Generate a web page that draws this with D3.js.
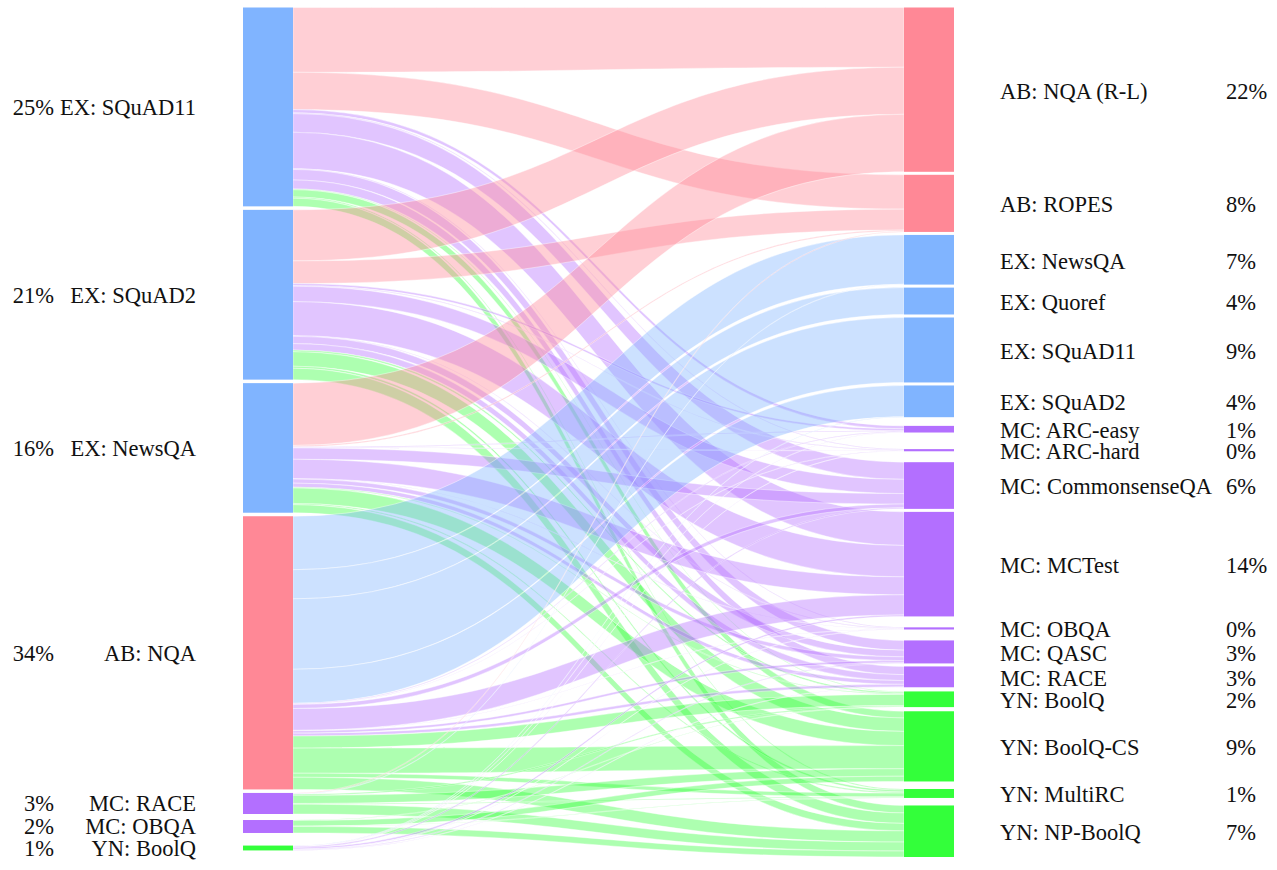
<!DOCTYPE html>
<html>
<head>
<meta charset="utf-8">
<script src="https://cdn.jsdelivr.net/npm/d3@7"></script>
<style>
  body { margin: 0; background: #fff; }
</style>
</head>
<body>
<svg id="chart" width="1277" height="870" font-family="'Liberation Serif', 'DejaVu Serif', serif" font-size="22.5"></svg>
<script>
// training sets (left) and evaluation sets (right)
const sources = ["EX: SQuAD11", "EX: SQuAD2", "EX: NewsQA", "AB: NQA", "MC: RACE", "MC: OBQA", "YN: BoolQ"];
const targets = ["AB: NQA (R-L)", "AB: ROPES", "EX: NewsQA", "EX: Quoref", "EX: SQuAD11", "EX: SQuAD2",
    "MC: ARC-easy", "MC: ARC-hard", "MC: CommonsenseQA", "MC: MCTest", "MC: OBQA", "MC: QASC", "MC: RACE",
    "YN: BoolQ", "YN: BoolQ-CS", "YN: MultiRC", "YN: NP-BoolQ"];

// flow from each source to every target, same order as targets
const fromSQuAD11 = [8.0, 4.6, 0, 0, 0, 0, 0.4, 0.1, 2.3, 4.5, 0.1, 1.3, 1.1, 0.1, 0.9, 0.15, 1.0];
const fromSQuAD2  = [6.3, 2.8, 0, 0, 0, 0, 0.25, 0.08, 1.9, 4.2, 0.08, 0.9, 0.8, 0.2, 1.8, 0.25, 1.4];
const fromNewsQA  = [7.7, 0.15, 0, 0, 0, 0, 0.1, 0.05, 1.4, 2.4, 0.05, 0.5, 0.5, 0.1, 1.9, 0.15, 1.0];
const fromNQA     = [0, 0, 6.6, 3.6, 8.7, 4.2, 0.1, 0.04, 0.5, 2.7, 0.04, 0.3, 0.35, 1.5, 3.1, 0.5, 1.5];
const fromRACE    = [0, 0.1, 0.05, 0, 0, 0, 0, 0, 0, 0, 0, 0, 0, 0.15, 1.0, 0.1, 1.2];
const fromOBQA    = [0, 0, 0, 0, 0, 0, 0, 0, 0, 0, 0, 0, 0, 0.05, 0.7, 0.05, 0.8];
const fromBoolQ   = [0, 0, 0, 0, 0, 0.05, 0.04, 0.02, 0.15, 0.2, 0.02, 0.08, 0.04, 0, 0, 0, 0];

const flows = [fromSQuAD11, fromSQuAD2, fromNewsQA, fromNQA, fromRACE, fromOBQA, fromBoolQ];

const categoryColor = {
    "AB": "#ff8896",
    "EX": "#80b4ff",
    "MC": "#b36fff",
    "YN": "#33ff3a"
};
const colorOf = (name) => categoryColor[name.slice(0, 2)];

const svg = d3.select("#chart");

const yTop = 7.5, yBottom = 857;
const nodeWidth = 50;
const leftX = 243, rightX = 904;
const pad = 3.5;
const minSlot = 18;

// Build links
let links = [];
flows.forEach((row, s) => {
    row.forEach((v, t) => {
        if (v > 0) links.push({ source: s, target: t, value: v });
    });
});

const srcTotals = sources.map((d, i) => d3.sum(flows[i]));
const tgtTotals = targets.map((d, j) => d3.sum(flows, (row) => row[j]));
const total = d3.sum(srcTotals);

// stack one column of nodes, small nodes get a minimum slot
function layoutColumn(values, padding) {
    const n = values.length;
    const sum = d3.sum(values);
    let k = (yBottom - yTop - padding * (n - 1)) / sum;
    for (let it = 0; it < 30; ++it) {
        let extra = d3.sum(values, (v) => Math.max(0, minSlot - v * k));
        k = (yBottom - yTop - padding * (n - 1) - extra) / sum;
    }
    const scale = d3.scaleLinear().domain([0, sum]).range([0, sum * k]);
    let y = yTop;
    const nodes = values.map((v) => {
        const h = scale(v);
        const slot = Math.max(h, minSlot);
        const y0 = y + (slot - h) / 2;
        y += slot + padding;
        return { y0: y0, y1: y0 + h, value: v };
    });
    return { nodes: nodes, scale: scale };
}

const left = layoutColumn(srcTotals, pad);
const right = layoutColumn(tgtTotals, 3);

// link positions at both ends
const srcOffset = left.nodes.map((n) => n.y0);
const tgtOffset = right.nodes.map((n) => n.y0);
links.forEach((l) => {
    l.sy0 = srcOffset[l.source];
    l.sy1 = l.sy0 + left.scale(l.value);
    srcOffset[l.source] = l.sy1;
});
links.slice().sort((a, b) => a.target - b.target || a.source - b.source).forEach((l) => {
    l.ty0 = tgtOffset[l.target];
    l.ty1 = l.ty0 + right.scale(l.value);
    tgtOffset[l.target] = l.ty1;
});

const x0 = leftX + nodeWidth, x1 = rightX;
const xm = (x0 + x1) / 2;
function ribbon(l) {
    const p = d3.path();
    p.moveTo(x0, l.sy0);
    p.bezierCurveTo(xm, l.sy0, xm, l.ty0, x1, l.ty0);
    p.lineTo(x1, l.ty1);
    p.bezierCurveTo(xm, l.ty1, xm, l.sy1, x0, l.sy1);
    p.closePath();
    return p.toString();
}

svg.append("g")
    .selectAll("path")
    .data(links)
    .enter()
    .append("path")
    .attr("d", ribbon)
    .attr("fill", (l) => colorOf(targets[l.target]))
    .attr("fill-opacity", 0.4)
    .attr("stroke", "#fff")
    .attr("stroke-opacity", 0.7)
    .attr("stroke-width", 0.6);

// nodes
svg.append("g")
    .selectAll("rect")
    .data(left.nodes)
    .enter()
    .append("rect")
    .attr("x", leftX)
    .attr("y", (d) => d.y0)
    .attr("width", nodeWidth)
    .attr("height", (d) => Math.max(1, d.y1 - d.y0))
    .attr("fill", (d, i) => colorOf(sources[i]));

svg.append("g")
    .selectAll("rect")
    .data(right.nodes)
    .enter()
    .append("rect")
    .attr("x", rightX)
    .attr("y", (d) => d.y0)
    .attr("width", nodeWidth)
    .attr("height", (d) => Math.max(1, d.y1 - d.y0))
    .attr("fill", (d, i) => colorOf(targets[i]));

const pct = (v) => d3.format(".0%")(v / total);

// left labels
const leftLabels = svg.append("g")
    .attr("fill", "#111")
    .selectAll("g")
    .data(left.nodes)
    .enter()
    .append("g")
    .attr("transform", (d) => `translate(0, ${(d.y0 + d.y1) / 2})`);
leftLabels.append("text")
    .attr("x", 54)
    .attr("dy", "0.35em")
    .attr("text-anchor", "end")
    .text((d) => pct(d.value));
leftLabels.append("text")
    .attr("x", 196)
    .attr("dy", "0.35em")
    .attr("text-anchor", "end")
    .text((d, i) => sources[i]);

// right labels
const rightLabels = svg.append("g")
    .attr("fill", "#111")
    .selectAll("g")
    .data(right.nodes)
    .enter()
    .append("g")
    .attr("transform", (d) => `translate(0, ${(d.y0 + d.y1) / 2 + 1})`);
rightLabels.append("text")
    .attr("x", 1000)
    .attr("dy", "0.35em")
    .text((d, i) => targets[i]);
rightLabels.append("text")
    .attr("x", 1226)
    .attr("dy", "0.35em")
    .text((d) => pct(d.value));
</script>
</body>
</html>
